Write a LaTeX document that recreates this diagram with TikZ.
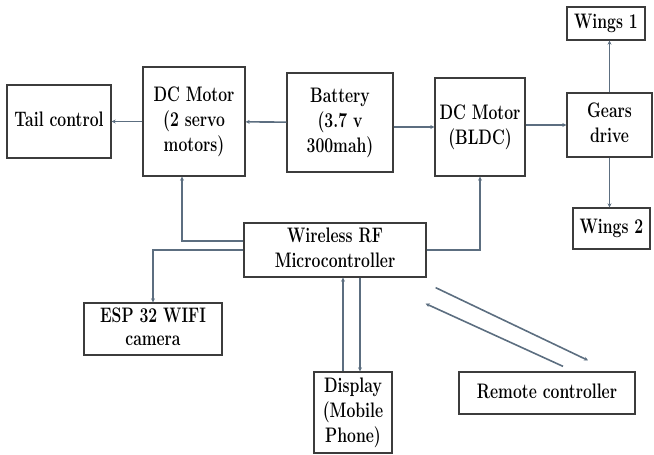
\documentclass[tikz,border=0pt]{standalone}
\usetikzlibrary{arrows.meta}
\definecolor{linegray}{RGB}{92,110,128}
\definecolor{boxgray}{RGB}{60,60,60}
% narrow serif label, several lines
\newcommand{\blabel}[1]{\scalebox{0.75}[1]{\begin{tabular}{@{}c@{}}#1\end{tabular}}}

\begin{document}
\begin{tikzpicture}[x=1pt, y=-1pt,
  every node/.style={font=\fontsize{21}{25}\selectfont\bfseries},
  blk/.style={draw=boxgray, line width=1.3pt, inner sep=0pt},
  conn/.style={draw=linegray, line width=1.6pt, -{Stealth[length=4pt,width=4pt]}}]
\useasboundingbox (0,0) rectangle (654,455);
% top row
\node[blk,minimum width=104pt,minimum height=73pt] (tail) at (59,121.5) {\blabel{Tail control}};
\node[blk,minimum width=102pt,minimum height=109pt] (servo) at (194,121.5) {\blabel{DC Motor\\(2 servo\\motors)}};
\node[blk,minimum width=106pt,minimum height=99pt] (batt) at (340,122.5) {\blabel{Battery\\(3.7 v\\300mah)}};
\node[blk,minimum width=90pt,minimum height=98pt] (bldc) at (480,127) {\blabel{DC Motor\\(BLDC)}};
\node[blk,minimum width=85pt,minimum height=64pt] (gears) at (609.5,125) {\blabel{Gears\\drive}};
\node[blk,minimum width=78pt,minimum height=33pt] (wing1) at (606,23.5) {\blabel{Wings 1}};
\node[blk,minimum width=77pt,minimum height=41pt] (wing2) at (611.5,228.5) {\blabel{Wings 2}};
% lower part
\node[blk,minimum width=182pt,minimum height=54pt] (rf) at (335,250) {\blabel{Wireless RF\\Microcontroller}};
\node[blk,minimum width=138pt,minimum height=52pt,font=\fontsize{21}{23}\selectfont\bfseries] (esp) at (153,329) {\blabel{ESP 32 WIFI\\camera}};
\node[blk,minimum width=78pt,minimum height=81pt] (disp) at (353,412.5) {\blabel{Display\\(Mobile\\Phone)}};
\node[blk,minimum width=176pt,minimum height=42pt] (remote) at (547,393) {\blabel{Remote controller}};
\coordinate (rfA) at ([shift={(9pt,-10pt)}]rf.south east);
\coordinate (rfB) at ([shift={(-1pt,-26pt)}]rf.south east);
\coordinate (remA) at ([shift={(41pt,11pt)}]remote.north);
\coordinate (remB) at ([shift={(16pt,5pt)}]remote.north);
% connectors
\draw[conn] (servo) -- (tail);
\draw[conn] (batt) -- (servo);
\draw[conn] (batt.east |- bldc.west) -- (bldc.west);
\draw[conn] (bldc.east |- gears.west) -- (gears.west);
\draw[conn] (gears.north) -- (gears.north |- wing1.south);
\draw[conn] (gears.south) -- (gears.south |- wing2.north);
\draw[conn] ([yshift=9pt]rf.west) -| ([xshift=-12pt]servo.south);
\draw[conn] (rf.west) -| (esp.north);
\draw[conn] (rf.east) -| (bldc.south);
\draw[conn] ([xshift=-10pt]disp.north) -- ([xshift=-10pt]disp.north |- rf.south);
\draw[conn] ([xshift=7pt]disp.north |- rf.south) -- ([xshift=7pt]disp.north);
\draw[conn] (rfA) -- (remA);
\draw[conn] (remB) -- (rfB);
\end{tikzpicture}
\end{document}
